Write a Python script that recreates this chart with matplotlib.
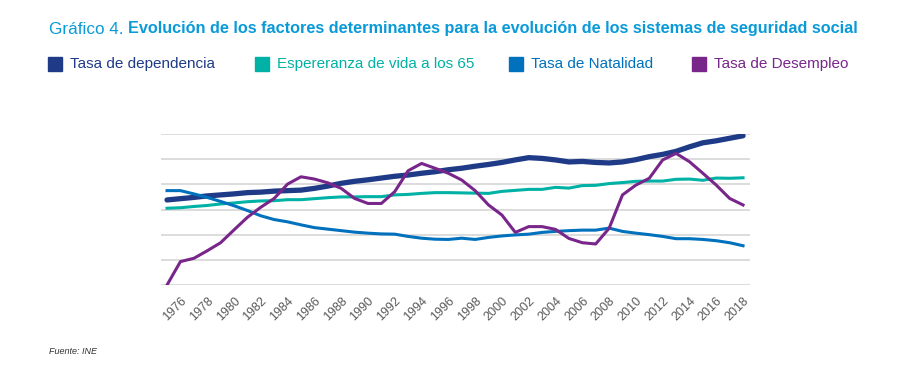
import matplotlib
matplotlib.use("Agg")
import matplotlib.pyplot as plt
from matplotlib.patches import Rectangle
import numpy as np

plt.rcParams['font.family'] = ['Liberation Sans', 'DejaVu Sans']

years = np.arange(1975, 2019)

dependencia = [33.8, 34.3, 34.8, 35.4, 35.8, 36.2, 36.7, 36.9, 37.3, 37.5,
               37.7, 38.4, 39.3, 40.4, 41.2, 41.8, 42.5, 43.2, 43.7, 44.4,
               45.0, 45.8, 46.4, 47.2, 47.9, 48.7, 49.7, 50.6, 50.3, 49.7,
               48.9, 49.1, 48.7, 48.5, 48.9, 49.8, 51.0, 51.9, 53.1, 54.9,
               56.5, 57.3, 58.3, 59.3]
esperanza = [30.5, 30.7, 31.2, 31.6, 32.2, 32.6, 33.1, 33.4, 33.5, 33.9,
             33.9, 34.3, 34.7, 35.0, 35.0, 35.1, 35.1, 35.8, 36.0, 36.4,
             36.7, 36.7, 36.6, 36.5, 36.4, 37.2, 37.6, 38.0, 38.0, 38.8,
             38.5, 39.5, 39.6, 40.3, 40.7, 41.2, 41.3, 41.3, 42.0, 42.1,
             41.6, 42.5, 42.4, 42.6]
natalidad = [37.5, 37.5, 36.2, 34.8, 33.2, 31.5, 29.6, 27.5, 26.0, 25.1,
             23.9, 22.8, 22.2, 21.6, 21.0, 20.6, 20.3, 20.2, 19.3, 18.6,
             18.2, 18.1, 18.6, 18.1, 18.9, 19.5, 19.9, 20.2, 20.9, 21.3,
             21.6, 21.8, 21.8, 22.6, 21.3, 20.6, 20.0, 19.3, 18.4, 18.4,
             18.1, 17.6, 16.8, 15.6]
desempleo = [0.0, 9.3, 10.6, 13.6, 16.8, 21.9, 26.9, 30.9, 34.4, 40.1,
             43.0, 42.1, 40.6, 38.4, 34.4, 32.4, 32.4, 37.1, 45.4, 48.3,
             46.4, 44.4, 41.7, 37.5, 31.8, 27.8, 20.9, 23.2, 23.2, 22.1,
             18.5, 16.8, 16.3, 22.5, 35.8, 39.7, 42.4, 49.7, 52.3, 49.0,
             44.4, 39.7, 34.4, 31.8]

labels = ['Tasa de dependencia', 'Espereranza de vida a los 65',
          'Tasa de Natalidad', 'Tasa de Desempleo']
colors = ['#1f3b87', '#00b2a5', '#0071bc', '#78268a']

W, H = 922, 391
fig = plt.figure(figsize=(W / 100, H / 100), dpi=100)
ax = fig.add_axes([161 / W, 1 - 285 / H, (750 - 161) / W, (285 - 134) / H])

ax.plot(years, dependencia, color=colors[0], lw=3.8, solid_capstyle='round', zorder=3)
ax.plot(years, esperanza, color=colors[1], lw=2.2, zorder=3)
ax.plot(years, natalidad, color=colors[2], lw=2.2, zorder=3)
ax.plot(years, desempleo, color=colors[3], lw=2.2, zorder=4)

ax.set_xlim(1974.55, 2018.52)
ax.set_ylim(0, 60)
ax.set_yticks(np.arange(0, 61, 10))
ax.yaxis.grid(True, color='#d9d9d9', lw=1.3)
ax.set_axisbelow(True)
ax.tick_params(axis='y', length=0, labelleft=False)
ax.set_xticks(years[1::2])
ax.set_xticklabels([str(y) for y in years[1::2]], rotation=45, ha='right',
                   va='top', rotation_mode='anchor', color='#595959', fontsize=9)
ax.tick_params(axis='x', length=0, pad=7)
for s in ax.spines.values():
    s.set_visible(False)

# title
t1 = fig.text(49 / W, 1 - 29 / H, 'Gráfico 4. ', color='#0a9ad8', fontsize=12.3,
              va='center', ha='left')
ax.annotate('Evolución de los factores determinantes para la evolución de los sistemas de seguridad social',
            xy=(1, 0), xycoords=t1, va='bottom', ha='left', color='#0a9ad8',
            fontsize=11.7, fontweight='bold', annotation_clip=False)

# legend
leg_x = [48, 255, 509, 692]
for lx, lab, c in zip(leg_x, labels, colors):
    fig.patches.append(Rectangle((lx / W, 1 - 71 / H), 14 / W, 14 / H,
                                 transform=fig.transFigure, color=c))
    fig.text((lx + 22) / W, 1 - 64 / H, lab, color=c, fontsize=11,
             va='center', ha='left')

fig.text(49 / W, 1 - 352 / H, 'Fuente: INE', style='italic', fontsize=6.5,
         color='#333333', va='center')

fig.savefig('out.png', dpi=100)
